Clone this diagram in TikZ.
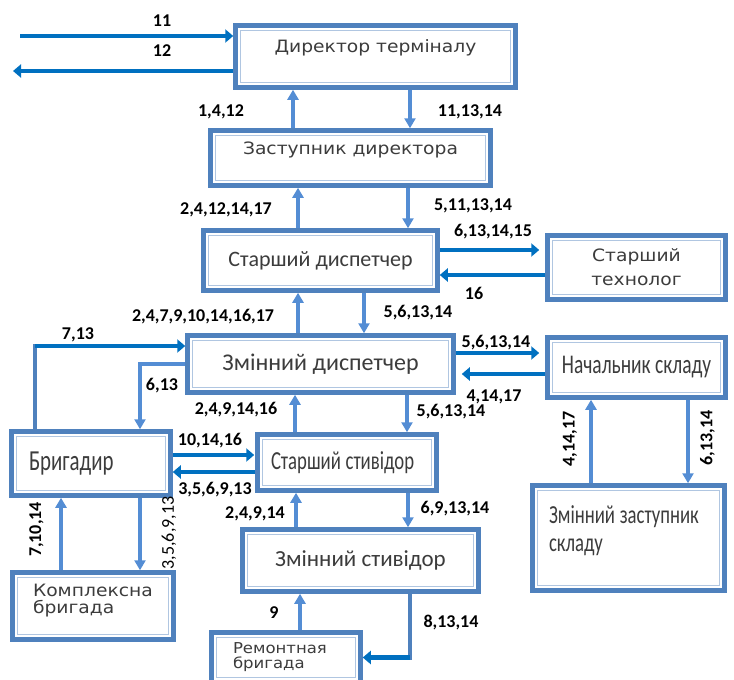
\documentclass[tikz,border=0pt]{standalone}
\usepackage{fontspec}
\setmainfont{Carlito}
\newfontfamily\widefont[FakeStretch=1.1]{DejaVu Sans}
\newfontfamily\narrowfont[FakeStretch=0.72]{Carlito}
\usetikzlibrary{arrows.meta}
\definecolor{frameblue}{RGB}{79,129,189}
\definecolor{flowblue}{RGB}{0,112,192}
\definecolor{linkblue}{RGB}{84,141,212}
\definecolor{textgrey}{RGB}{60,60,60}
\tikzset{
x=1pt, y=-1pt, % one unit is one pixel of the scheme, y runs downwards
unit/.style={draw=frameblue, line width=4.5pt, fill=white, text=textgrey, inner sep=6pt,
  path picture={\draw[frameblue!45, line width=1pt]
    ([shift={(5pt,-5pt)}]path picture bounding box.north west) rectangle
    ([shift={(-5pt,5pt)}]path picture bounding box.south east);}}, % thin inner frame
wide/.style={font=\widefont\fontsize{#1}{#1}\selectfont},
calib/.style={font=\fontsize{#1}{#1}\selectfont},
narrow/.style={font=\narrowfont\fontsize{#1}{#1}\selectfont},
lifted/.style={text depth=#1}, % pushes the text towards the top of its box
flow/.style={draw=flowblue, line width=4.5pt, -{Triangle[length=8pt,width=13pt]}}, % horizontal links
link/.style={draw=linkblue, line width=3.5pt, -{Triangle[length=10pt,width=11pt]}}, % vertical links
trunk/.style={draw=frameblue, line width=4.5pt, line cap=rect},
num/.style={font=\bfseries\fontsize{18}{18}\selectfont, inner sep=0pt},
}

\begin{document}
\begin{tikzpicture}
\useasboundingbox (0,0) rectangle (734,680);

% units
\node[unit, wide=17, lifted=21pt, minimum width=280pt, minimum height=62pt] (dir) at (375.5,56.5) {Директор терміналу};
\node[unit, wide=17, lifted=20pt, minimum width=280pt, minimum height=55pt] (zast) at (350.5,158) {Заступник директора};
\node[unit, calib=22, minimum width=234pt, minimum height=60pt] (sdisp) at (320.5,260.5) {Старший диспетчер};
\node[unit, font=\widefont\fontsize{17}{24}\selectfont, align=center, minimum width=178pt, minimum height=64pt] (tech) at (636.5,267.5) {Старший\\технолог};
\node[unit, calib=24, minimum width=266pt, minimum height=57pt] (zdisp) at (320.5,364) {Змінний диспетчер};
\node[unit, narrow=27, minimum width=178pt, minimum height=60pt] (nach) at (636.5,367.5) {Начальник складу};
\node[unit, narrow=29, text width=124pt, align=left, minimum width=159pt, minimum height=64pt] (bryg) at (91,463.5) {Бригадир};
\node[unit, narrow=26, text width=152pt, align=left, minimum width=179pt, minimum height=56pt] (sstyv) at (347,462.5) {Старший\kern-4pt{} стивідор};
\node[unit, calib=23, minimum width=236pt, minimum height=62pt] (zstyv) at (360.5,560.5) {Змінний стивідор};
\node[unit, wide=17, lifted=32pt, text width=120pt, align=left, minimum width=161pt, minimum height=67pt] (kompl) at (93,606) {Комплексна\\бригада};
\node[unit, wide=15, text width=106pt, align=left, minimum width=149pt, minimum height=50pt] (remont) at (286,657.5) {Ремонтная\\бригада};
\node[unit, font=\narrowfont\fontsize{26}{28}\selectfont, lifted=47pt, text width=159pt, align=left, minimum width=192pt, minimum height=105pt] (zzast) at (628.5,538) {Змінний\kern-4pt{} заступник\\складу};

% links of the director with the outside
\coordinate (in11) at (20,36);
\coordinate (out12) at (13,71);
\draw[flow] (in11) -- (in11 -| dir.west);
\draw[flow] (out12 -| dir.west) -- (out12);

% upward links: from / to / offset
\foreach \src/\dst/\off in {zast/dir/-57.5, sdisp/zast/-22.5, zdisp/sdisp/-22.5, sstyv/zdisp/-52,
    zstyv/sstyv/-64.5, kompl/bryg/-32, remont/zstyv/14, zzast/nach/-37.5}{
  \coordinate (a) at ([xshift=\off pt]\src.north);
  \draw[link] (a) -- (a |- \dst.south);
}
% downward links
\foreach \src/\dst/\off in {dir/zast/34.5, zast/sdisp/57.5, sdisp/zdisp/43.5, zdisp/sstyv/86.5,
    sstyv/zstyv/61, bryg/kompl/49, nach/zzast/51.5}{
  \coordinate (a) at ([xshift=\off pt]\src.south);
  \draw[link] (a) -- (a |- \dst.north);
}
% side links to the right and to the left: from / to / offset / gap at the tip
\foreach \src/\dst/\off/\gap in {sdisp/tech/10.5/6, zdisp/nach/11/6, bryg/sstyv/8.5/1}{
  \coordinate (a) at ([yshift=\off pt]\src.east);
  \draw[flow, shorten >=\gap pt] (a) -- (a -| \dst.west);
}
\foreach \src/\dst/\off/\gap in {tech/sdisp/-7.5/0, nach/zdisp/-6.5/6, sstyv/bryg/-9.5/0}{
  \coordinate (a) at ([yshift=\off pt]\src.west);
  \draw[flow, shorten >=\gap pt] (a) -- (a -| \dst.east);
}

% bent links
\coordinate[xshift=-56pt] (b713) at (bryg.north);
\coordinate[yshift=18pt] (k713) at (zdisp.west);
\draw[trunk] (b713) -- (b713 |- k713);
\draw[flow] (b713 |- k713) -- (k713);
\coordinate[xshift=49pt] (b613) at (bryg.north);
\draw[link] (zdisp.west) -| (b613);
\coordinate[xshift=49.5pt] (b81314) at (zstyv.south);
\draw[trunk] (b81314) -- (b81314 |- remont.east);
\draw[flow] (b81314 |- remont.east) -- (remont.east);

% numbers of the messages
\node[num] (n11) at (162,21) {11};
\node[num] (n12) at (162,51) {12};
\node[num] (n1412) at (221,112) {1,4,12};
\node[num] (n111314) at (470,112) {11,13,14};
\node[num] (n24121417) at (226,210) {2,4,12,14,17};
\node[num] (n5111314) at (473,206) {5,11,13,14};
\node[num] (n6131415) at (493,232) {6,13,14,15};
\node[num] (n16) at (474,293) {16};
\node[num] (n247all) at (203,317) {2,4,7,9,10,14,16,17};
\node[num] (n561314a) at (418,313) {5,6,13,14};
\node[num] (n713) at (78,335) {7,13};
\node[num] (n561314b) at (496,343) {5,6,13,14};
\node[num] (n613) at (162,386) {6,13};
\node[num] (n41417) at (494,397) {4,14,17};
\node[num] (n2491416) at (236,410) {2,4,9,14,16};
\node[num] (n561314c) at (451,412) {5,6,13,14};
\node[num] (n101416) at (210,441) {10,14,16};
\node[num] (n356913) at (215,490) {3,5,6,9,13};
\node[num] (n24914) at (255,514) {2,4,9,14};
\node[num] (n691314) at (455,509) {6,9,13,14};
\node[num] (n9) at (274,613) {9};
\node[num] (n81314) at (451,622) {8,13,14};
\node[num, rotate=90] (n71014) at (36.5,529.5) {7,10,14};
\node[num, rotate=90, font=\fontsize{18}{18}\selectfont] (n356913v) at (169,533) {3,5,6,9,13};
\node[num, rotate=90] (n41417v) at (570,439) {4,14,17};
\node[num, rotate=90] (n61314v) at (707.5,438) {6,13,14};
\end{tikzpicture}
\end{document}
